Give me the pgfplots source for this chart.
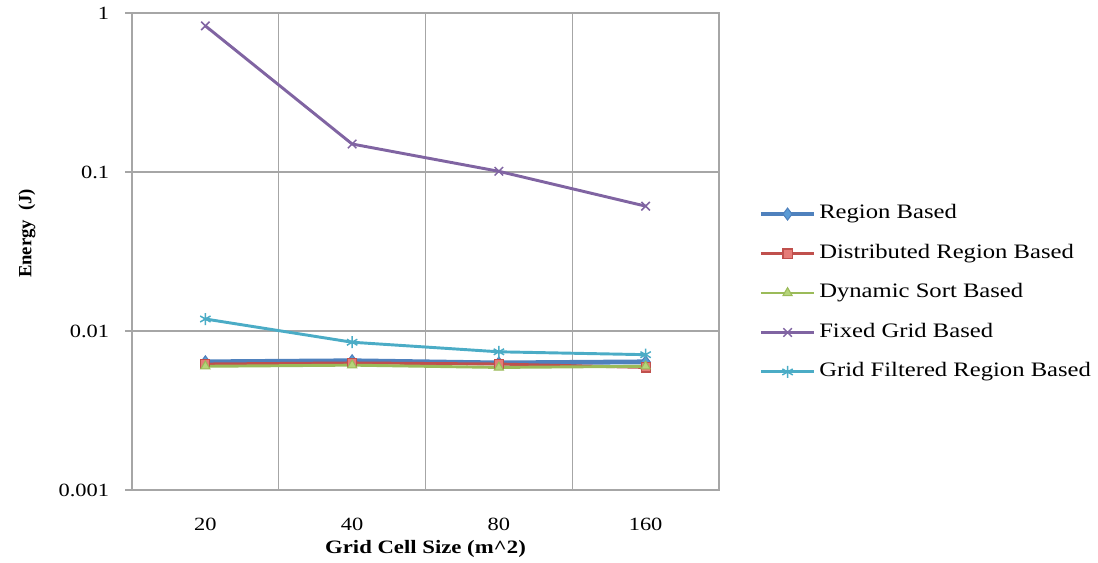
\documentclass[border=0pt]{standalone}
\usepackage{fontspec}
\setmainfont{Liberation Serif}[FakeStretch=1.2]
\newfontfamily\plainserif{Liberation Serif}
\usepackage{pgfplots}
\pgfplotsset{compat=1.18}
\definecolor{regionC}{HTML}{4F81BD}
\definecolor{regionF}{HTML}{5B9BD5}
\definecolor{distC}{HTML}{C0504D}
\definecolor{distF}{HTML}{E57C78}
\definecolor{dynC}{HTML}{9BBB59}
\definecolor{dynF}{HTML}{B5D47A}
\definecolor{fixedC}{HTML}{8064A2}
\definecolor{filtC}{HTML}{4BACC6}
\definecolor{gridC}{HTML}{A6A6A6}

\begin{document}
\begin{tikzpicture}
\useasboundingbox (-99pt,-54pt) rectangle (724.5pt,367.5pt);
\begin{axis}[
  at={(0,0)}, anchor=south west,
  scale only axis,
  width=440.25pt, height=357.75pt,
  ymode=log,
  xmin=-0.5, xmax=3.5,
  ymin=0.001, ymax=1,
  xtick={0,1,2,3},
  xticklabels={20,40,80,160},
  minor xtick={0.5,1.5,2.5},
  ytick={0.001,0.01,0.1,1},
  yticklabels={0.001,0.01,0.1,1},
  xminorgrids, ymajorgrids,
  grid style={gridC, line width=1.1pt},
  minor grid style={gridC, line width=1.1pt},
  axis line style={gridC, line width=1.1pt},
  xtick style={draw=none},
  minor y tick style={draw=none},
  ytick pos=left,
  ytick style={gridC, line width=1.1pt},
  tick align=outside,
  major tick length=5pt,
  /pgf/number format/assume math mode=true,
  tick label style={font=\fontsize{14}{16}\selectfont},
  xticklabel style={anchor=center, yshift=-21pt},
  yticklabel style={anchor=east, inner sep=0pt, xshift=-12pt},
  xlabel={\textbf{Grid Cell Size (m\textasciicircum 2)}},
  xlabel style={font=\fontsize{14.2}{16}\selectfont, at={(axis description cs:0.5,0)}, anchor=center, yshift=-44pt},
  ylabel={\plainserif\bfseries Energy\ \ (J)},
  ylabel style={font=\fontsize{14}{16}\selectfont, at={(axis description cs:-0.179,0.538)}, anchor=center},
  legend cell align=left,
  legend image code/.code={%
    \draw[mark repeat=2, mark phase=2, #1] plot coordinates {(0pt,0pt) (20pt,0pt) (40pt,0pt)};},
  legend style={at={(1.06,0.413)}, anchor=west, draw=none, fill=none,
    font=\fontsize{15.4}{18}\selectfont, row sep=10.6pt,
    nodes={text height=11pt, text depth=4pt, inner sep=2pt}},
]
\addplot[regionC, line width=3.6pt, mark=diamond*, mark size=4.5pt,
  mark options={solid, fill=regionF, draw=regionC, line width=0.8pt}]
  coordinates {(0,0.0064) (1,0.0065) (2,0.0063) (3,0.0064)};
\addplot[distC, line width=2.2pt, mark=square*, mark size=3.4pt,
  mark options={solid, fill=distF, draw=distC, line width=0.8pt}]
  coordinates {(0,0.0062) (1,0.0063) (2,0.0062) (3,0.0059)};
\addplot[dynC, line width=2.2pt, mark=triangle*, mark size=4pt,
  mark options={solid, fill=dynF, draw=dynC, line width=0.8pt}]
  coordinates {(0,0.0060) (1,0.0061) (2,0.0059) (3,0.0060)};
\addplot[fixedC, line width=2.2pt, mark=x, mark size=4.5pt,
  mark options={solid, line width=1.1pt}]
  coordinates {(0,0.83) (1,0.15) (2,0.101) (3,0.061)};
\addplot[filtC, line width=2.2pt, mark=asterisk, mark size=4.5pt,
  mark options={solid, line width=1.1pt}]
  coordinates {(0,0.0119) (1,0.0085) (2,0.0074) (3,0.0071)};
\legend{Region Based, Distributed Region Based, Dynamic Sort Based, Fixed Grid Based, Grid Filtered Region Based}
\end{axis}
\end{tikzpicture}
\end{document}
